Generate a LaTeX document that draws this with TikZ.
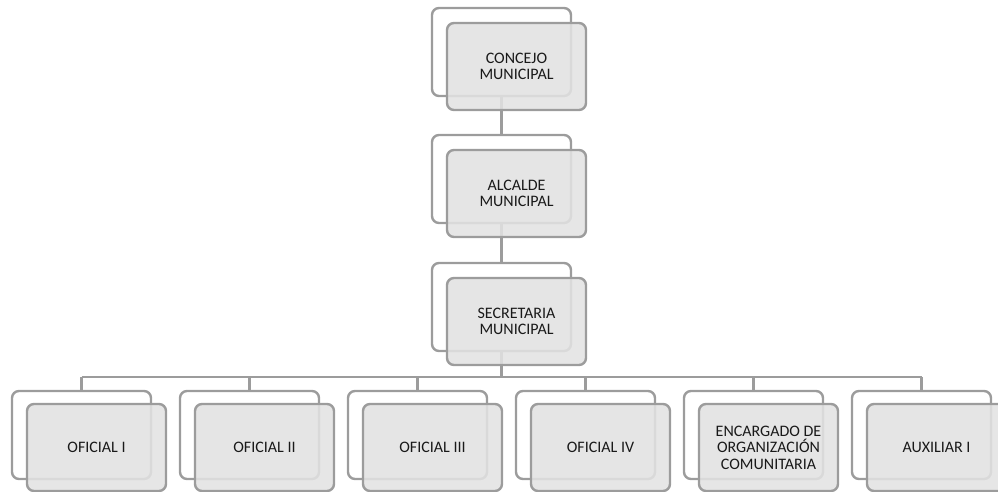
\documentclass[tikz,border=0pt]{standalone}
\usepackage{fontspec}
\setmainfont{Carlito}
\pgfdeclarelayer{background}
\pgfsetlayers{background,main}
\definecolor{edgegray}{HTML}{9C9C9C}
\definecolor{boxfill}{HTML}{E2E2E2}
\tikzset{
  backbox/.style={draw=edgegray, line width=2.4pt, rounded corners=7pt, minimum width=139pt, minimum height=88pt, inner sep=0pt, outer sep=0pt, anchor=north west, fill=white},
  frontbox/.style={draw=edgegray, line width=2.4pt, rounded corners=7pt, minimum width=139pt, minimum height=87pt, inner sep=0pt, outer sep=0pt, anchor=north west, fill=boxfill, fill opacity=0.88, text opacity=1, align=center, font=\fontsize{16pt}{16.5pt}\selectfont, text=black!90},
  conn/.style={draw=edgegray, line width=2.4pt}
}
\begin{document}
\begin{tikzpicture}[x=1pt,y=-1pt]
\useasboundingbox (0,0) rectangle (998,491);
% hierarchy
\node[backbox] (b1) at (432,8) {};
\node[frontbox] (f1) at (447,23) {CONCEJO\\MUNICIPAL};
\node[backbox] (b2) at (432,135) {};
\node[frontbox] (f2) at (447,150) {ALCALDE\\MUNICIPAL};
\node[backbox] (b3) at (432,263) {};
\node[frontbox] (f3) at (447,278) {SECRETARIA\\MUNICIPAL};
% bottom row
\node[backbox] (o1) at (12,391) {};
\node[frontbox] (g1) at (27,404) {OFICIAL I};
\node[backbox] (o2) at (180,391) {};
\node[frontbox] (g2) at (195,404) {OFICIAL II};
\node[backbox] (o3) at (348,391) {};
\node[frontbox] (g3) at (363,404) {OFICIAL III};
\node[backbox] (o4) at (516,391) {};
\node[frontbox] (g4) at (531,404) {OFICIAL IV};
\node[backbox] (o5) at (684,391) {};
\node[frontbox] (g5) at (699,404) {ENCARGADO DE\\ORGANIZACIÓN\\COMUNITARIA};
\node[backbox] (o6) at (852,391) {};
\node[frontbox] (g6) at (867,404) {AUXILIAR I};
\coordinate (busy) at (0,377);
\begin{pgfonlayer}{background}
\draw[conn] (b1.south) -- (b2.north);
\draw[conn] (b2.south) -- (b3.north);
\draw[conn] (b3.south) -- (b3.south |- busy);
\draw[conn] (o1.north |- busy) -- (o6.north |- busy);
\foreach \n in {o1,o2,o3,o4,o5,o6}{
  \draw[conn] (\n.north |- busy) -- (\n.north);
}
\end{pgfonlayer}
\end{tikzpicture}
\end{document}
